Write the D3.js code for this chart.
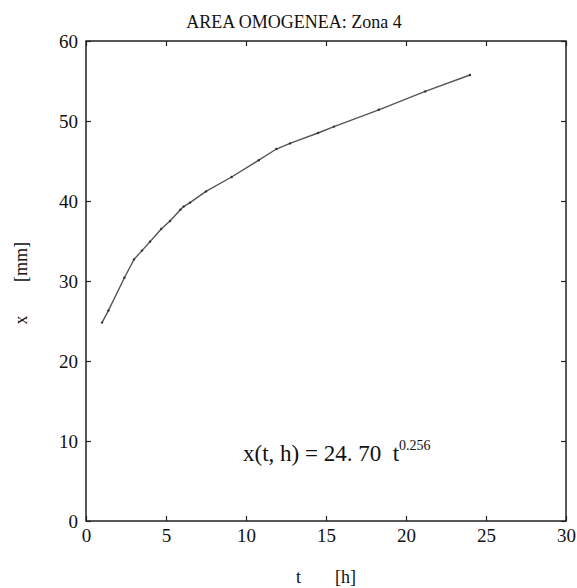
<!DOCTYPE html>
<html>
<head>
<meta charset="utf-8">
<script src="https://cdn.jsdelivr.net/npm/d3@7"></script>
<style>
  body { margin: 0; background: #fff; }
  text { font-family: "Liberation Serif", "Times New Roman", serif; fill: #111; white-space: pre; }
</style>
</head>
<body>
<div id="chart"></div>
<script>
// ore [h]
var tValues = [1, 1.4, 2.4, 3, 3.5, 4, 4.7, 5.25, 5.9, 6.1, 6.5, 7.5, 9.1, 10.8, 11.9, 12.75, 14.5, 15.5, 18.3, 21.2, 24];
// penetrazione [mm]
var xValues = [24.8, 26.3, 30.4, 32.7, 33.8, 34.9, 36.5, 37.5, 38.9, 39.3, 39.8, 41.2, 43.0, 45.1, 46.5, 47.2, 48.5, 49.3, 51.4, 53.7, 55.75];
var xTicks = [0, 5, 10, 15, 20, 25, 30];
var yTicks = [0, 10, 20, 30, 40, 50, 60];

var width = 577, height = 588,
    margin = {top: 41, right: 11, bottom: 67, left: 86};

var svg = d3.select("#chart").append("svg")
    .attr("width", width)
    .attr("height", height);

var x = d3.scaleLinear().domain([0, 30]).range([margin.left, width - margin.right]);
var y = d3.scaleLinear().domain([0, 60]).range([height - margin.bottom, margin.top]);

var data = tValues.map(function (t, i) { return {t: t, v: xValues[i]}; });

// cornice
svg.append("rect")
    .attr("x", x(0)).attr("y", y(60))
    .attr("width", x(30) - x(0)).attr("height", y(0) - y(60))
    .attr("fill", "none").attr("stroke", "#222").attr("stroke-width", 1.5);

function styleAxis(g) {
    g.select(".domain").remove();
    g.selectAll(".tick line").attr("stroke", "#222").attr("stroke-width", 1.2);
    g.selectAll(".tick text")
        .style("font-family", "'Liberation Serif', serif")
        .style("font-size", "19px")
        .attr("fill", "#111");
}

svg.append("g")
    .attr("transform", "translate(0," + y(0) + ")")
    .call(d3.axisBottom(x).tickValues(xTicks).tickSize(-5).tickPadding(8).tickFormat(d3.format("d")))
    .call(styleAxis);

svg.append("g")
    .attr("transform", "translate(0," + y(60) + ")")
    .call(d3.axisTop(x).tickValues(xTicks).tickSize(-5).tickFormat(""))
    .call(styleAxis);

svg.append("g")
    .attr("transform", "translate(" + x(0) + ",0)")
    .call(d3.axisLeft(y).tickValues(yTicks).tickSize(-5).tickPadding(8).tickFormat(d3.format("d")))
    .call(styleAxis);

svg.append("g")
    .attr("transform", "translate(" + x(30) + ",0)")
    .call(d3.axisRight(y).tickValues(yTicks).tickSize(-5).tickFormat(""))
    .call(styleAxis);

// curva
var line = d3.line().x(function (d) { return x(d.t); }).y(function (d) { return y(d.v); });

svg.append("path")
    .datum(data)
    .attr("d", line)
    .attr("fill", "none")
    .attr("stroke", "#555")
    .attr("stroke-width", 1.4);

svg.selectAll("circle.pt")
    .data(data)
    .enter().append("circle")
    .attr("class", "pt")
    .attr("cx", function (d) { return x(d.t); })
    .attr("cy", function (d) { return y(d.v); })
    .attr("r", 1.2)
    .attr("fill", "#333");

// titolo
svg.append("text")
    .attr("x", 294)
    .attr("y", 28)
    .attr("text-anchor", "middle")
    .style("font-size", "18px")
    .text("AREA OMOGENEA: Zona 4");

// etichette assi
var xl = svg.append("text")
    .attr("x", 296).attr("y", 583)
    .style("font-size", "18px");
xl.append("tspan").text("t");
xl.append("tspan").attr("x", 335).text("[h]");

var yl = svg.append("g").attr("transform", "translate(27,0) rotate(-90)");
yl.append("text").attr("x", -320).attr("y", 0).attr("text-anchor", "middle").style("font-size", "18px").text("x");
yl.append("text").attr("x", -282).attr("y", 0).style("font-size", "18px").text("[mm]");

// equazione
var eq = svg.append("text")
    .attr("x", 243).attr("y", 461)
    .style("font-size", "23px");
eq.append("tspan").text("x(t, h) = 24. 70  t");
eq.append("tspan").attr("dy", -11).style("font-size", "14px").text("0.256");
</script>
</body>
</html>
